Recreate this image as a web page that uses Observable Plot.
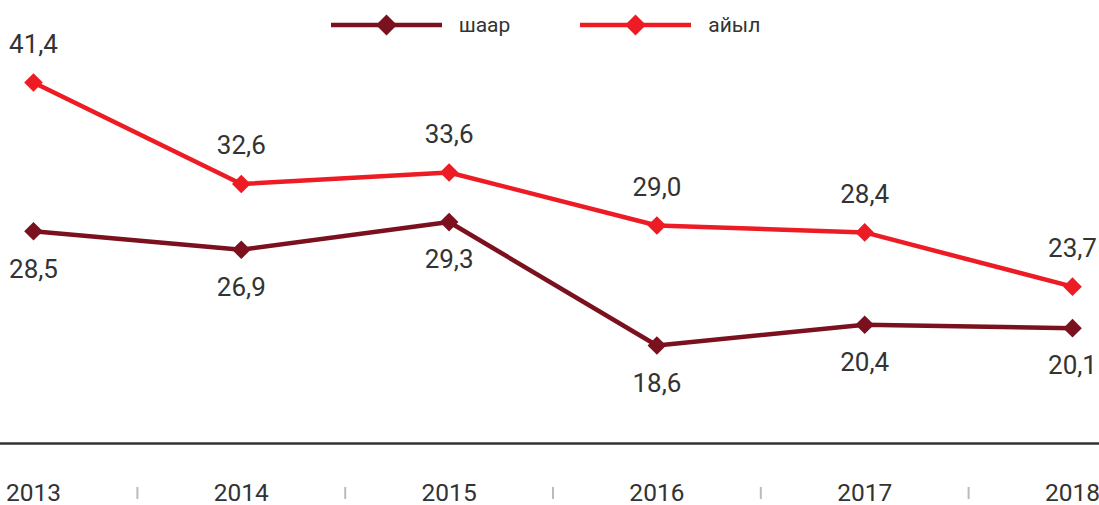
<!DOCTYPE html>
<html>
<head>
<meta charset="utf-8">
<script src="https://cdn.jsdelivr.net/npm/d3@7"></script>
<script src="https://cdn.jsdelivr.net/npm/@observablehq/plot@0.6"></script>
<style>
  html, body { margin: 0; padding: 0; background: #fff; overflow: hidden; }
  body { width: 1099px; height: 505px; font-family: Roboto, "Noto Sans", sans-serif; }
  #legend { height: 50px; display: flex; justify-content: center; align-items: center; padding-right: 8px; }
  .item { display: flex; align-items: center; font-size: 21px; color: #333; }
  .item svg { display: block; }
  .item span { margin-left: 17px; }
  .item + .item { margin-left: 70px; }
</style>
</head>
<body>
<div id="legend"></div>
<div id="chart"></div>
<script>
const years = [2013, 2014, 2015, 2016, 2017, 2018];
const shaar = [28.5, 26.9, 29.3, 18.6, 20.4, 20.1];
const aiyl  = [41.4, 32.6, 33.6, 29.0, 28.4, 23.7];
const seriesNames = ["шаар", "айыл"];
const seriesColors = ["#7b111e", "#ed1c24"];

const rows = [];
years.forEach((yr, i) => {
  rows.push({year: yr, value: shaar[i], series: seriesNames[0]});
  rows.push({year: yr, value: aiyl[i], series: seriesNames[1]});
});
const mids = years.slice(0, -1).map((y, i) => (y + years[i + 1]) / 2);
const fmt = v => v.toFixed(1).replace(".", ",");

// legend
const legend = document.getElementById("legend");
seriesNames.forEach((name, i) => {
  const item = document.createElement("div");
  item.className = "item";
  item.innerHTML = `<svg width="111" height="24"><line x1="0" x2="111" y1="12" y2="12" stroke="${seriesColors[i]}" stroke-width="4.5"/><path d="M55.5,1.5 L66,12 L55.5,22.5 L45,12 Z" fill="${seriesColors[i]}"/></svg><span>${name}</span>`;
  legend.appendChild(item);
});

const W = 1099, H = 455;
const mt = 32, mb = 62, ml = 33, mr = 27;
const color = {domain: seriesNames, range: seriesColors};

const chart = Plot.plot({
  width: W,
  height: H,
  marginTop: mt,
  marginBottom: mb,
  marginLeft: ml,
  marginRight: mr,
  style: {fontFamily: "Roboto, sans-serif", background: "transparent", overflow: "visible"},
  x: {domain: [2013, 2018], axis: null},
  y: {domain: [10.1, 41.4], axis: null},
  color: color,
  marks: [
    Plot.ruleY([10.1], {stroke: "#333", strokeWidth: 2.5, insetLeft: -ml, insetRight: -mr}),
    Plot.axisX({ticks: years, tickFormat: d => String(d), tickSize: 0, tickPadding: 40, fontSize: 24.5, fill: "#333", anchor: "bottom", label: null}),
    Plot.tickX(mids, {x: d => d, stroke: "#bbb", strokeWidth: 2, insetTop: H - mt - mb + 44, insetBottom: -56}),
    Plot.line(rows, {x: "year", y: "value", z: "series", stroke: "series", strokeWidth: 4.5}),
    Plot.dot(rows, {x: "year", y: "value", fill: "series", symbol: "diamond2", r: 8.4}),
    Plot.text(rows.filter(d => d.series === seriesNames[1]), {x: "year", y: "value", text: d => fmt(d.value), dy: -38, fontSize: 26, fill: "#333"}),
    Plot.text(rows.filter(d => d.series === seriesNames[0]), {x: "year", y: "value", text: d => fmt(d.value), dy: 38, fontSize: 26, fill: "#333"})
  ]
});
document.getElementById("chart").appendChild(chart);
</script>
</body>
</html>
